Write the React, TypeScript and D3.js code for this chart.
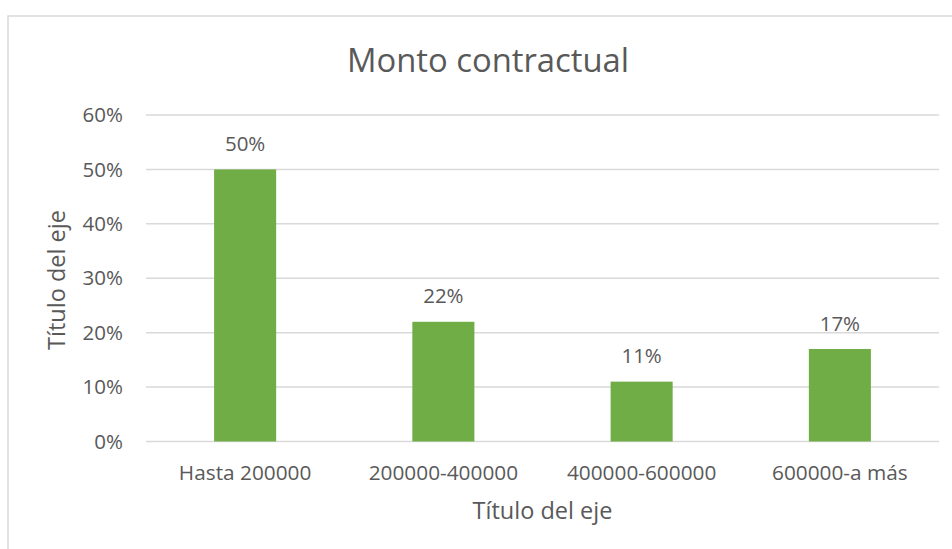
import React from "react";
import * as d3 from "d3";

const categories = ["Hasta 200000", "200000-400000", "400000-600000", "600000-a más"];
const values = [0.5, 0.22, 0.11, 0.17];
const yTicks = [0, 0.1, 0.2, 0.3, 0.4, 0.5, 0.6];
const title = "Monto contractual";
const xTitle = "Título del eje";
const yTitle = "Título del eje";

const W = 952;
const H = 549;
const FONT = "'Open Sans', sans-serif";
const TEXT = "#595959";
const GRID = "#D9D9D9";
const BAR = "#70AD47";

export default function App() {
  const left = 146, right = 939, top = 115, bottom = 441.5;
  const x = d3.scaleBand<string>().domain(categories).range([left, right]).paddingInner(0.687).paddingOuter(0.3435);
  const y = d3.scaleLinear().domain([0, 0.6]).range([bottom, top]);
  const fmt = d3.format(".0%");
  return (
    <svg width={W} height={H} style={{ position: "absolute", left: 0, top: 0, display: "block" }} fontFamily={FONT}>
      <rect x={0} y={0} width={W} height={H} fill="#fff" />
      <rect x={8} y={16} width={W + 20} height={H + 20} fill="#fff" stroke={GRID} strokeWidth={1.5} />
      <text x={488} y={72} textAnchor="middle" fontSize={32.8} fill={TEXT}>{title}</text>
      {yTicks.map((t) => (
        <g key={t}>
          <line x1={left} x2={right} y1={y(t)} y2={y(t)} stroke={GRID} strokeWidth={1.5} />
          <text x={123} y={y(t)} dy="0.35em" textAnchor="end" fontSize={20.5} fill={TEXT}>{fmt(t)}</text>
        </g>
      ))}
      {categories.map((c, i) => (
        <g key={c}>
          <rect x={x(c)} y={y(values[i])} width={x.bandwidth()} height={bottom - y(values[i])} fill={BAR} />
          <text x={(x(c) as number) + x.bandwidth() / 2} y={y(values[i]) - 18.3} textAnchor="middle" fontSize={20.5} fill={TEXT}>{fmt(values[i])}</text>
          <text x={(x(c) as number) + x.bandwidth() / 2} y={480} textAnchor="middle" fontSize={20.8} fill={TEXT}>{c}</text>
        </g>
      ))}
      <text x={(left + right) / 2} y={518.5} textAnchor="middle" fontSize={23.5} fill={TEXT}>{xTitle}</text>
      <text transform={`translate(65, 280) rotate(-90)`} textAnchor="middle" fontSize={23.5} fill={TEXT}>{yTitle}</text>
    </svg>
  );
}
